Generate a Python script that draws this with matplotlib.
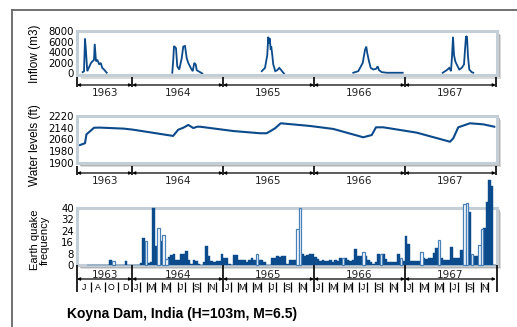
import matplotlib
matplotlib.use('Agg')
import matplotlib.pyplot as plt
from matplotlib.patches import Rectangle
from matplotlib.lines import Line2D
import numpy as np

# ---------------- data ----------------
years = [1963, 1964, 1965, 1966, 1967]

# Inflow (m3) per monsoon season: decimal year, value
inflow_1963_t = [1963.455, 1963.470, 1963.481, 1963.492, 1963.506, 1963.547, 1963.580, 1963.588, 1963.602,
                 1963.616, 1963.638, 1963.654, 1963.671, 1963.690, 1963.720]
inflow_1963_v = [250, 400, 6600, 4150, 430, 2000, 2600, 5600, 2300, 2600, 1700, 2000, 1050, 750, 130]
inflow_1964_t = [1964.441, 1964.452, 1964.460, 1964.482, 1964.496, 1964.518, 1964.545, 1964.562, 1964.581,
                 1964.600, 1964.617, 1964.644, 1964.666, 1964.683, 1964.699, 1964.710, 1964.746, 1964.771]
inflow_1964_v = [130, 2600, 5200, 4800, 1350, 750, 2900, 5100, 5200, 2900, 2000, 1050, 430, 2000, 1700, 620, 250, 0]
inflow_1965_t = [1965.425, 1965.461, 1965.486, 1965.497, 1965.505, 1965.513, 1965.524, 1965.530, 1965.541,
                 1965.552, 1965.574, 1965.596, 1965.618, 1965.634, 1965.656, 1965.670]
inflow_1965_v = [430, 1050, 3500, 6950, 5700, 6650, 4470, 5100, 3500, 1700, 430, 620, 1050, 750, 250, 0]
inflow_1966_t = [1966.432, 1966.487, 1966.536, 1966.561, 1966.575, 1966.586, 1966.605, 1966.624, 1966.652,
                 1966.682, 1966.701, 1966.715, 1966.745, 1966.800, 1966.976]
inflow_1966_v = [130, 430, 2000, 4470, 5100, 3850, 2300, 1050, 750, 870, 1350, 620, 250, 130, 130]
inflow_1967_t = [1967.416, 1967.460, 1967.488, 1967.507, 1967.518, 1967.529, 1967.540, 1967.554, 1967.570,
                 1967.598, 1967.625, 1967.650, 1967.661, 1967.672, 1967.683, 1967.694, 1967.708, 1967.735, 1967.752]
inflow_1967_v = [130, 620, 1050, 430, 3200, 6950, 3500, 2300, 1700, 750, 1050, 1700, 4470, 7070, 6950, 3200,
                 750, 250, 130]

# Water level (ft)
level_t = [1963.426, 1963.459, 1963.481, 1963.497, 1963.536, 1963.580, 1963.646, 1963.910, 1964.010, 1964.450,
           1964.507, 1964.562, 1964.617, 1964.644, 1964.672, 1964.716, 1964.746, 1965.112, 1965.406, 1965.480,
           1965.571, 1965.634, 1965.956, 1966.212, 1966.542, 1966.635, 1966.682, 1966.762, 1967.130, 1967.496,
           1967.532, 1967.587, 1967.716, 1967.862, 1967.983]
level_v = [2023, 2030, 2035, 2095, 2115, 2139, 2140, 2133, 2126, 2084,
           2126, 2139, 2158, 2148, 2137, 2146, 2146, 2117, 2102, 2102,
           2135, 2169, 2151, 2131, 2075, 2090, 2142, 2142, 2106, 2045,
           2068, 2142, 2169, 2162, 2146]

# Earthquake frequency, 10-day periods (1963 from July)
quake_1963 = [0, 0, 0, 0, 0, 0, 0, 0, 0, 3.5, 2.8, 0, 0, 0, 0, 2.5, 0, 0]
quake_1964 = [0, 0, 0, 1.5, 19, 17, 1.5, 2, 40, 13, 25.5, 17, 21, 4.5, 5.5, 7, 7.5, 3.5,
              3.5, 7.5, 7.5, 9.5, 3.5, 1, 3.5, 3, 1, 0, 2, 13, 6, 3, 2, 3, 3, 8]
quake_1965 = [4.6, 4.6, 1, 0, 7, 7, 3.5, 3.5, 3.5, 2, 3.5, 4.6, 3.5, 8, 3.5, 3.5, 2, 0,
              0, 4.6, 4.6, 6.3, 5.5, 6.3, 6.5, 1, 3.5, 3.5, 3.5, 25, 39.5, 7.4, 6.3, 7, 7.4, 7.4]
quake_1966 = [5.8, 4, 3, 3.5, 2.5, 3, 3.5, 2, 3.5, 3, 4.6, 4.6, 4.6, 3.5, 3, 3.5, 11, 6.3,
              6, 9.3, 6, 3.5, 2, 1, 2, 8, 8, 7.4, 4, 2, 2.3, 2.3, 2.3, 7.4, 4.6, 3]
quake_1967 = [20.5, 14.4, 3, 3, 3, 3, 9.3, 4.6, 4, 5, 4.6, 8.6, 11.6, 17.4, 4.6, 3.5, 3.5, 3.5,
              12.8, 4.6, 4.6, 5, 10.5, 42.5, 43, 37, 8, 6.3, 6, 14, 25, 25.6, 44, 59, 55, 0]
# periods drawn as open bars
open_1963 = [10]
open_1964 = [5, 10, 12, 13]
open_1965 = [13, 29, 30]
open_1966 = [11, 19, 26, 34]
open_1967 = [6, 13, 23, 24, 26, 29, 30]

month_labels_1963 = ['J', 'A', 'O', 'D']
month_labels = ['J', 'M', 'M', 'J', 'S', 'N']

title = 'Koyna Dam, India (H=103m, M=6.5)'

# ---------------- style / layout ----------------
W, H = 517, 327
BLUE = '#0b4a8b'
OPEN_EDGE = '#4a80b8'
FRAME = '#c3ced7'
XL = (1963.393, 1968.013)
AX_L, AX_R = 77, 497
NARROW = ['Liberation Sans Narrow', 'Liberation Sans', 'DejaVu Sans']

fig = plt.figure(figsize=(W / 100, H / 100), dpi=100)
fig.patch.set_facecolor('white')


def fx(px):
    return px / W


def fy(py):
    return 1 - py / H


def main_axes(top, bottom):
    ax = fig.add_axes([fx(AX_L), fy(bottom), fx(AX_R - AX_L), (bottom - top) / H])
    for off, col in ((4, '#dadada'), (2.5, '#b4b4b4')):
        fig.add_artist(Rectangle((fx(AX_L + off), fy(bottom + off)), fx(AX_R - AX_L), (bottom - top) / H,
                                 transform=fig.transFigure, facecolor=col, edgecolor='none', zorder=-1))
    for s in ax.spines.values():
        s.set_color(FRAME)
        s.set_linewidth(2.2)
    ax.set_xlim(XL)
    ax.set_xticks([])
    ax.tick_params(axis='y', length=0, labelsize=7.3, pad=2)
    return ax


def row_axes(top, bottom):
    ax = fig.add_axes([fx(AX_L), fy(bottom), fx(AX_R - AX_L), (bottom - top) / H])
    ax.set_xlim(XL)
    ax.set_ylim(bottom, top)
    ax.axis('off')
    return ax


bounds = [XL[0]] + [y + 1 for y in years]


def year_row(ax, line_y, tick_top, tick_bot, text_y, text_va):
    for a, b, yr in zip(bounds[:-1], bounds[1:], years):
        ax.annotate('', xy=(b, line_y), xytext=(a, line_y),
                    arrowprops=dict(arrowstyle='<|-|>', color='black', lw=0.9,
                                    mutation_scale=4, shrinkA=0, shrinkB=0))
        ax.text((a + b) / 2, text_y, str(yr), ha='center', va=text_va, fontsize=7.5, color='#222222')
    ax.vlines(bounds, tick_top, tick_bot, color='black', lw=1.2, clip_on=False)


# ---- Panel 1: inflow ----
ax1 = main_axes(31, 74.5)
for t, v in ((inflow_1963_t, inflow_1963_v), (inflow_1964_t, inflow_1964_v), (inflow_1965_t, inflow_1965_v),
             (inflow_1966_t, inflow_1966_v), (inflow_1967_t, inflow_1967_v)):
    ax1.plot(t, v, color=BLUE, lw=1.3, solid_joinstyle='miter')
ax1.set_ylim(-200, 8050)
ax1.set_yticks([0, 2000, 4000, 6000, 8000])
r1 = row_axes(75, 100)
year_row(r1, 85, 77, 87, 88, 'top')
fig.text(fx(35), fy(54), 'Inflow (m3)', rotation=90, ha='center', va='center', fontsize=8.5, family=NARROW)

# ---- Panel 2: water levels ----
ax2 = main_axes(115.7, 163.3)
ax2.plot(level_t, level_v, color=BLUE, lw=1.5)
ax2.set_ylim(1900, 2220)
ax2.set_yticks([1900, 1980, 2060, 2140, 2220])
r2 = row_axes(164, 190)
year_row(r2, 173, 166, 175, 176, 'top')
fig.text(fx(35), fy(145), 'Water levels (ft)', rotation=90, ha='center', va='center', fontsize=8.5, family=NARROW)

# ---- Panel 3: earthquake frequency ----
ax3 = main_axes(207.7, 265)
for yr, vals, opens in ((1963.5, quake_1963, open_1963), (1964, quake_1964, open_1964),
                        (1965, quake_1965, open_1965), (1966, quake_1966, open_1966),
                        (1967, quake_1967, open_1967)):
    vals = np.asarray(vals, float)
    x = yr + np.arange(len(vals)) / 36
    is_open = np.isin(np.arange(len(vals)), opens)
    ax3.bar(x[~is_open], vals[~is_open], width=1 / 36, align='edge', color=BLUE, edgecolor=BLUE,
            linewidth=0.3, clip_on=False, zorder=3)
    ax3.bar(x[is_open], vals[is_open], width=1 / 36, align='edge', facecolor='white', edgecolor=OPEN_EDGE,
            linewidth=0.9, clip_on=False, zorder=3)
ax3.set_ylim(0, 40)
ax3.set_yticks([0, 8, 16, 24, 32, 40])
fig.text(fx(40), fy(240), 'Earth quake\nfrequency', rotation=90, ha='center', va='center', fontsize=8,
         family=NARROW, linespacing=0.95)

r3 = row_axes(265, 296)
for a, b, yr in zip(bounds[:-1], bounds[1:], years):
    r3.annotate('', xy=(b, 279), xytext=(a, 279),
                arrowprops=dict(arrowstyle='<|-|>', color='black', lw=0.9,
                                mutation_scale=4, shrinkA=0, shrinkB=0))
    r3.text((a + b) / 2, 279.5, str(yr), ha='center', va='bottom', fontsize=7.5, color='#222222')
r3.vlines(bounds[:-1] + [XL[1]], 265, 292, color='black', lw=1.2, clip_on=False)
# month row
span63 = (1964 - XL[0]) / len(month_labels_1963)
for i, lab in enumerate(month_labels_1963):
    c = XL[0] + (i + 0.5) * span63
    r3.text(c, 287.5, lab, ha='center', va='center', fontsize=6.3, family=NARROW)
    if i > 0:
        r3.vlines(XL[0] + i * span63, 282, 292, color='black', lw=0.9)
for yr in years[1:]:
    for m in range(1, 12):
        r3.vlines(yr + m / 12, 282, 292, color='black', lw=0.9)
    for i, lab in enumerate(month_labels):
        r3.text(yr + (2 * i + 0.5) / 12, 287.5, lab, ha='center', va='center', fontsize=6.3, family=NARROW)

# title & frame
fig.text(fx(67), fy(314), title, ha='left', va='center', fontsize=10, fontweight='bold', family=NARROW[1:])
fig.add_artist(Line2D([fx(11.5), fx(11.5)], [fy(10), 0], color='#666666', lw=1.3))
fig.add_artist(Line2D([fx(11.5), 1], [fy(10), fy(10)], color='#666666', lw=1.3))

fig.savefig('out.png', dpi=100)
